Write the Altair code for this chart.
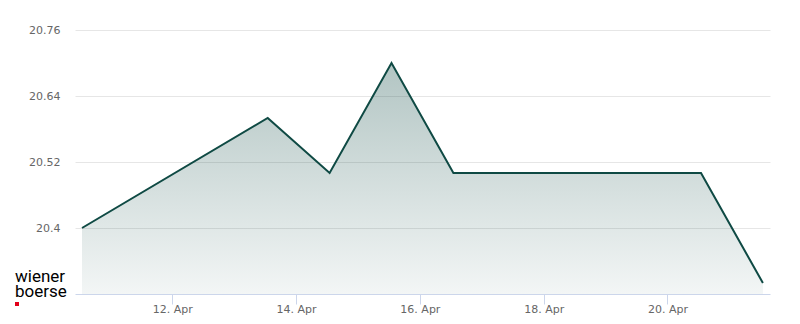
import altair as alt
import pandas as pd

dates = ["2026-04-10T13:00:00", "2026-04-13T13:00:00", "2026-04-14T13:00:00",
         "2026-04-15T13:00:00", "2026-04-16T13:00:00", "2026-04-20T13:00:00",
         "2026-04-21T13:00:00"]
prices = [20.40, 20.60, 20.50, 20.70, 20.50, 20.50, 20.30]
y_ticks = [20.4, 20.52, 20.64, 20.76]
x_tick_days = [12, 14, 16, 18, 20]
logo_lines = ["wiener", "boerse"]

df = pd.DataFrame({"date": dates, "price": prices})
logo = pd.DataFrame({"a": [1]})

LINE = "#0f4a44"
FONT = "DejaVu Sans"

x_enc = alt.X(
    "date:T",
    scale=alt.Scale(domain=[alt.DateTime(year=2026, month=4, date=10, hours=10, minutes=17),
                            alt.DateTime(year=2026, month=4, date=21, hours=15, minutes=45)]),
    axis=alt.Axis(values=[alt.DateTime(year=2026, month=4, date=d) for d in x_tick_days],
                  format="%-d. %b", title=None, grid=False,
                  domainColor="#ccd6eb", tickColor="#ccd6eb", tickSize=10,
                  labelColor="#666666", labelFontSize=11, labelFont=FONT,
                  labelPadding=-1),
)
y_enc = alt.Y(
    "price:Q",
    scale=alt.Scale(domain=[20.28, 20.76], zero=False, nice=False),
    axis=alt.Axis(values=y_ticks, format=".2~f", title=None, domain=False, ticks=False,
                  gridColor="#e6e6e6", labelColor="#666666", labelFontSize=11,
                  labelFont=FONT, labelPadding=15),
)

area = alt.Chart(df).mark_area(
    color=alt.Gradient(
        gradient="linear", x1=0, y1=0, x2=0, y2=1,
        stops=[alt.GradientStop(color="rgba(15,74,68,0.32)", offset=0),
               alt.GradientStop(color="rgba(15,74,68,0.05)", offset=1)],
    )
).encode(x=x_enc, y=y_enc, y2=alt.datum(20.28))

line = alt.Chart(df).mark_line(color=LINE, strokeWidth=2).encode(x="date:T", y="price:Q")

logo_text = alt.Chart(logo).mark_text(align="left", baseline="alphabetic", fontSize=17,
                                      lineHeight=15, font="Roboto",
                                      color="#000000").encode(
    x=alt.value(-60), y=alt.value(252), text=alt.value(logo_lines))
sq = alt.Chart(logo).mark_rect(color="#e2001a").encode(
    x=alt.value(-60), x2=alt.value(-56), y=alt.value(272), y2=alt.value(276))

chart = alt.layer(area, line, logo_text, sq).properties(
    width=695, height=264,
    autosize=alt.AutoSizeParams(type="none"),
    padding={"left": 75, "top": 30, "right": 30, "bottom": 30},
).configure_view(stroke=None)

chart.save("out.html", embed_options={"renderer": "svg", "actions": False})
